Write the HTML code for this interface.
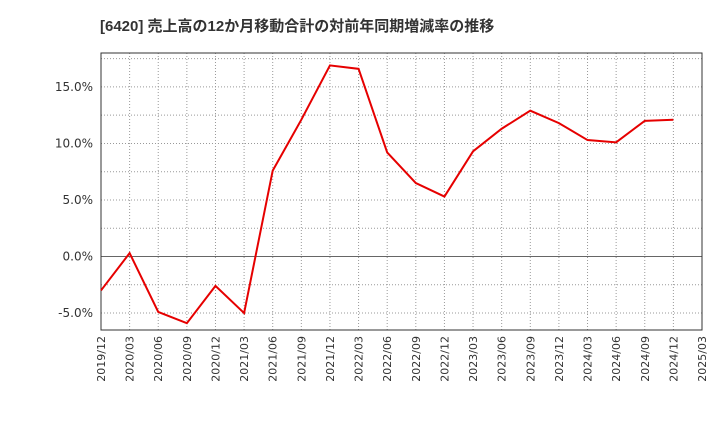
<!DOCTYPE html>
<html><head><meta charset="utf-8"><style>
body{margin:0;background:#fff;font-family:"Liberation Sans","Noto Sans CJK JP",sans-serif;}
</style></head><body>
<svg id="c" width="720" height="440" xmlns="http://www.w3.org/2000/svg">
<text x="100" y="31" font-size="15" font-weight="bold" fill="#333" font-family="Liberation Sans, Noto Sans CJK JP, sans-serif">[6420]  売上高の12か月移動合計の対前年同期増減率の推移</text>
</svg>
<script>
const categories=["2019/12","2020/03","2020/06","2020/09","2020/12","2021/03","2021/06","2021/09","2021/12","2022/03","2022/06","2022/09","2022/12","2023/03","2023/06","2023/09","2023/12","2024/03","2024/06","2024/09","2024/12","2025/03"];
const values=[-3.0,0.3,-4.9,-5.9,-2.6,-5.0,7.6,12.1,16.9,16.6,9.2,6.5,5.3,9.3,11.3,12.9,11.8,10.3,10.1,12.0,12.1];
const yTicks=[-5,0,5,10,15];
const yTickLabels=["-5.0%","0.0%","5.0%","10.0%","15.0%"];
const L=101,R=702,T=53,B=330,yMin=-6.5,yMax=18;
const svg=document.getElementById('c');const NS="http://www.w3.org/2000/svg";
const TF="DejaVu Sans, sans-serif";
function xs(i){return L+(R-L)*i/(categories.length-1);}
function ys(v){return B-(v-yMin)/(yMax-yMin)*(B-T);}
function mk(t,a){const e=document.createElementNS(NS,t);for(const k in a)e.setAttribute(k,a[k]);svg.appendChild(e);return e;}
for(let i=1;i<categories.length-1;i++){const g=mk('line',{x1:xs(i),x2:xs(i),y1:T,y2:B,stroke:'#999','stroke-dasharray':'1,2','stroke-width':1});

}
for(let v=-5;v<=17.5;v+=2.5){if(v===0)continue;const g=mk('line',{x1:L,x2:R,y1:ys(v),y2:ys(v),stroke:'#999','stroke-dasharray':'1,2','stroke-width':1});

}
const z=mk('line',{x1:L,x2:R,y1:ys(0),y2:ys(0),stroke:'#666','stroke-width':1});


const fr=mk('rect',{x:L,y:T,width:R-L,height:B-T,fill:'none',stroke:'#333','stroke-width':1});


yTicks.forEach((v,i)=>{const t=mk('text',{x:L-8,y:ys(v)+4,'text-anchor':'end','font-size':12,fill:'#333','font-family':TF});t.textContent=yTickLabels[i];

});
categories.forEach((c,i)=>{const x=xs(i),y=B+6;const t=mk('text',{x:x+4,y:y,'text-anchor':'end','font-size':11,fill:'#333','font-family':TF,transform:`rotate(-90 ${x+4} ${y})`});t.textContent=c;

});
const p=mk('polyline',{points:values.map((v,i)=>xs(i)+','+ys(v)).join(' '),fill:'none',stroke:'#e60000','stroke-width':2});


</script>
</body></html>
